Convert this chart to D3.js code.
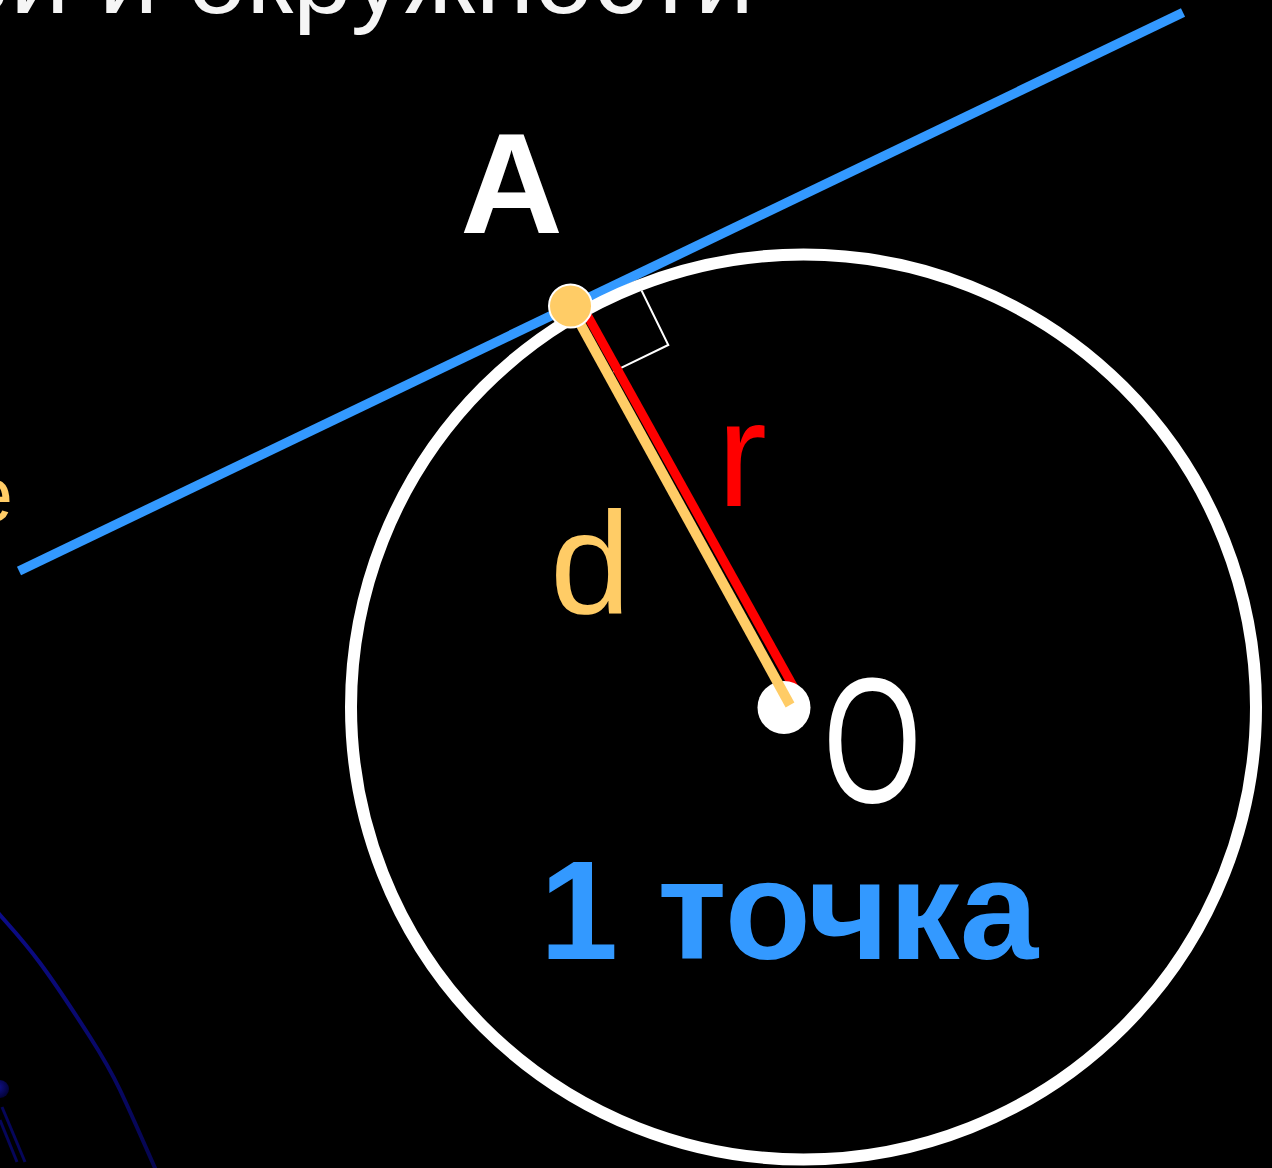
<!DOCTYPE html>
<html>
<head>
<meta charset="utf-8">
<script src="https://cdn.jsdelivr.net/npm/d3@7"></script>
<style>
  html, body { margin: 0; padding: 0; background: #000; }
  svg { display: block; }
</style>
</head>
<body>
<svg id="chart" width="1272" height="1168"></svg>
<script>
// ---- Data (geometry units: circle centre = (0,0), radius = 10) ----
const circleCenter = [0, 0];
const circleRadius = 10;
const pointA = [-5.149, 8.862];
const pointO = [-0.431, -0.011];
const tangentLine = [[-17.337, 3.006], [8.387, 15.348]];
const distanceSeg = [[-5.149, 8.862], [-0.298, 0.044]];   // d
const radiusSeg = [[-4.965, 8.994], [-0.059, 0.155]];     // r
const rightAngle = [[-3.576, 9.200], [-2.988, 8.000], [-4.203, 7.410]];
const decoArc = [[-18.2, -4.04], [-17.757, -4.597], [-16.873, -5.657], [-15.768, -7.293], [-15.105, -8.464], [-14.331, -10.188], [-14.0, -10.895]];
const decoBall = [-17.757, -8.442];
const decoRods = [[[-17.713, -8.84], [-17.204, -10.055]], [[-17.757, -9.127], [-17.381, -10.055]]];
const titleText = "Взаимное расположение прямой и окружности";
const labels = { A: "A", d: "d", r: "r", O: "O", result: "1 точка", side: "е" };

// ---- Scales ----
const W = 1272, H = 1168;
const k = 45.25;
const x = d3.scaleLinear().domain([0, 1]).range([803.5, 803.5 + k]);
const y = d3.scaleLinear().domain([0, 1]).range([707, 707 - k]);

const svg = d3.select("#chart");
svg.append("rect").attr("width", W).attr("height", H).attr("fill", "#000");

const defs = svg.append("defs");
const g1 = defs.append("linearGradient").attr("id", "arcGrad")
  .attr("gradientUnits", "userSpaceOnUse")
  .attr("x1", x(decoArc[0][0])).attr("y1", y(decoArc[0][1]))
  .attr("x2", x(decoArc[decoArc.length - 1][0])).attr("y2", y(decoArc[decoArc.length - 1][1]));
g1.append("stop").attr("offset", "0%").attr("stop-color", "#0c0c8e");
g1.append("stop").attr("offset", "100%").attr("stop-color", "#05054a");
const g2 = defs.append("radialGradient").attr("id", "ballGrad").attr("cx", "40%").attr("cy", "40%").attr("r", "60%");
g2.append("stop").attr("offset", "0%").attr("stop-color", "#10108a");
g2.append("stop").attr("offset", "100%").attr("stop-color", "#03033a");

const font = "'Liberation Sans', Arial, sans-serif";

// ---- Decorative background (bottom-left) ----
const line = d3.line().x(d => x(d[0])).y(d => y(d[1])).curve(d3.curveNatural);
svg.append("path").datum(decoArc).attr("d", line)
  .attr("fill", "none").attr("stroke", "url(#arcGrad)").attr("stroke-width", 4);
decoRods.forEach(seg => {
  svg.append("line")
    .attr("x1", x(seg[0][0])).attr("y1", y(seg[0][1]))
    .attr("x2", x(seg[1][0])).attr("y2", y(seg[1][1]))
    .attr("stroke", "#06065a").attr("stroke-width", 3);
});
svg.append("circle").attr("cx", x(decoBall[0])).attr("cy", y(decoBall[1]))
  .attr("r", 9).attr("fill", "url(#ballGrad)");

// ---- Title (cropped at top, as in the reference) ----
svg.append("text").text(titleText)
  .attr("x", 754).attr("y", 13)
  .attr("text-anchor", "end")
  .attr("font-family", font).attr("font-size", 106)
  .attr("fill", "#f5f5f5");

// ---- Side label fragment (cropped at left, as in the reference) ----
svg.append("text").text(labels.side)
  .attr("x", 13).attr("y", 521)
  .attr("text-anchor", "end")
  .attr("font-family", font).attr("font-size", 78)
  .attr("fill", "#ffcc66");

// ---- Tangent line ----
svg.append("line")
  .attr("x1", x(tangentLine[0][0])).attr("y1", y(tangentLine[0][1]))
  .attr("x2", x(tangentLine[1][0])).attr("y2", y(tangentLine[1][1]))
  .attr("stroke", "#3399ff").attr("stroke-width", 9.5);

// ---- Right angle marker ----
svg.append("path").datum(rightAngle)
  .attr("d", d3.line().x(d => x(d[0])).y(d => y(d[1])))
  .attr("fill", "none").attr("stroke", "#fff").attr("stroke-width", 2);

// ---- Circle ----
svg.append("circle")
  .attr("cx", x(circleCenter[0])).attr("cy", y(circleCenter[1]))
  .attr("r", x(circleRadius) - x(0))
  .attr("fill", "none").attr("stroke", "#fff").attr("stroke-width", 12);

// ---- Radius r (red) ----
svg.append("line")
  .attr("x1", x(radiusSeg[0][0])).attr("y1", y(radiusSeg[0][1]))
  .attr("x2", x(radiusSeg[1][0])).attr("y2", y(radiusSeg[1][1]))
  .attr("stroke", "#ff0000").attr("stroke-width", 9);

// ---- Centre dot ----
svg.append("circle").attr("cx", x(pointO[0])).attr("cy", y(pointO[1]))
  .attr("r", 26.5).attr("fill", "#fff");

// ---- Distance d (orange) ----
svg.append("line")
  .attr("x1", x(distanceSeg[0][0])).attr("y1", y(distanceSeg[0][1]))
  .attr("x2", x(distanceSeg[1][0])).attr("y2", y(distanceSeg[1][1]))
  .attr("stroke", "#ffcc66").attr("stroke-width", 10);

// ---- Point A ----
svg.append("circle").attr("cx", x(pointA[0])).attr("cy", y(pointA[1]))
  .attr("r", 21.5).attr("fill", "#ffcc66")
  .attr("stroke", "#fff").attr("stroke-width", 2);

// ---- Labels ----
svg.append("text").text(labels.A)
  .attr("x", x(pointA[0]) - 59).attr("y", y(pointA[1]) - 73)
  .attr("text-anchor", "middle")
  .attr("font-family", font).attr("font-weight", "bold").attr("font-size", 142)
  .attr("fill", "#fff");

svg.append("text").text(labels.d)
  .attr("x", 550).attr("y", 613)
  .attr("font-family", font).attr("font-size", 145)
  .attr("fill", "#ffcc66");

svg.append("text").text(labels.r)
  .attr("x", 717).attr("y", 506)
  .attr("font-family", font).attr("font-size", 150)
  .attr("fill", "#ff0000");

svg.append("g").attr("transform", "translate(872.5,802) scale(0.71,1)")
  .append("text").text(labels.O)
  .attr("x", 0).attr("y", 0)
  .attr("text-anchor", "middle")
  .attr("font-family", font).attr("font-size", 178)
  .attr("fill", "#fff");

svg.append("text").text(labels.result)
  .attr("x", 789).attr("y", 959)
  .attr("text-anchor", "middle")
  .attr("font-family", font).attr("font-weight", "bold").attr("font-size", 141)
  .attr("fill", "#3399ff");
</script>
</body>
</html>
